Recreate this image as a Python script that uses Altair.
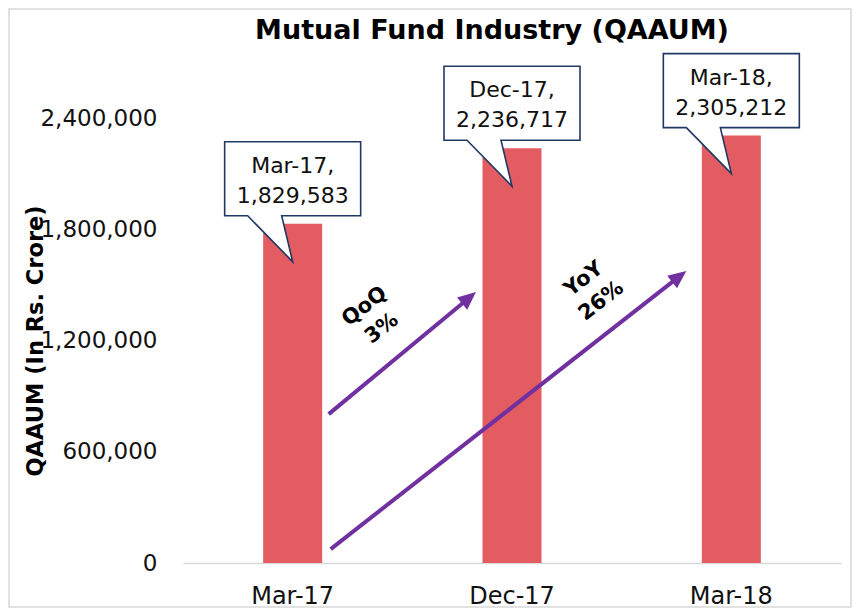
import math
import altair as alt
import pandas as pd

# ---- data ----
categories = ["Mar-17", "Dec-17", "Mar-18"]
qaaum = [1829583, 2236717, 2305212]
y_ticks = [0, 600000, 1200000, 1800000, 2400000]

arrow_from = ["Mar-17", "Mar-17"]
arrow_to = ["Dec-17", "Mar-18"]
arrow_start = [803000, 75000]
arrow_end = [1461000, 1575000]
arrow_text = ["QoQ\n3%", "YoY\n26%"]
arrow_text_cat = ["Mar-17", "Dec-17"]
arrow_text_val = [1324000, 1472000]

title_text = "Mutual Fund Industry (QAAUM)"
y_title = "QAAUM (In Rs. Crore)"

# ---- tables ----
bars_df = pd.DataFrame({"period": categories, "aum": qaaum})
bars_df["label"] = [f"{c},\n{v:,}" for c, v in zip(categories, qaaum)]
arrows_df = pd.DataFrame({"period": arrow_from, "to": arrow_to,
                          "aum": arrow_start, "end": arrow_end})
ann_df = pd.DataFrame({"period": arrow_text_cat, "aum": arrow_text_val, "txt": arrow_text})

FONT = "DejaVu Sans"
BAR = "#E35C62"
PURPLE = "#7030A0"
NAVY = "#203864"

x_axis = alt.Axis(title=None, labelFont=FONT, labelFontSize=24, labelColor="#111111",
                  labelPadding=21, ticks=False, tickSize=0, domainColor="#D9D9D9",
                  domainWidth=1.5, labelAngle=0, grid=False)
y_axis = alt.Axis(title=y_title, values=y_ticks,
                  labelExpr="format(datum.value, ',')", labelFont=FONT,
                  labelFontSize=23, labelColor="#111111", labelPadding=26, ticks=False,
                  tickSize=0, domain=False, grid=False, titleFont=FONT, titleFontSize=22.5,
                  titleFontWeight="bold", titleColor="#000000", titleAngle=270,
                  titleAlign="center", titleBaseline="alphabetic", titleX=-141, titleY=222.5)
x_scale = alt.Scale(domain=categories, paddingInner=0, paddingOuter=0)
y_scale = alt.Scale(domain=[0, 2400000], nice=False)


def X(field):
    return alt.X(f"{field}:N", sort=categories, scale=x_scale, axis=x_axis, title=None)


def Y(field):
    return alt.Y(f"{field}:Q", scale=y_scale, axis=y_axis, title=y_title)


border = alt.Chart(pd.DataFrame({"k": [0]})).mark_rect(
    fillOpacity=0, stroke="#D9D9D9", strokeWidth=1.5
).encode(x=alt.value(-174), x2=alt.value(668), y=alt.value(-109), y2=alt.value(489))

bars = alt.Chart(bars_df).mark_bar(size=59, color=BAR).encode(x=X("period"), y=Y("aum"))

callout_path = ("M -0.68 -0.82 L 0.68 -0.82 L 0.68 -0.08 L -0.11 -0.08 L 0 0.38 "
                "L -0.45 -0.08 L -0.68 -0.08 Z")
boxes = alt.Chart(bars_df).mark_point(
    shape=callout_path, size=40000, filled=True, fill="white", stroke=NAVY,
    strokeWidth=1.6, opacity=1
).encode(x=X("period"), y=Y("aum"))

box_text = alt.Chart(bars_df).mark_text(
    font=FONT, fontSize=22, color="#111111", lineBreak="\n", lineHeight=30,
    align="center", baseline="middle", yOffset=-58
).encode(x=X("period"), y=Y("aum"), text="label:N")

# arrows: (start x offset, end x offset, rotation of head)
arrow_style = [(36, -36, 50.5), (38, -45, 52.1)]
head_path = "M 0 0 L -0.8 1.8 L 0.8 1.8 Z"
arrow_layers = []
for i, (sx, ex, ang) in enumerate(arrow_style):
    sub = alt.Chart(arrows_df.iloc[[i]])
    theta = math.radians(90 - ang)
    arrow_layers.append(
        sub.mark_rule(color=PURPLE, strokeWidth=4, xOffset=sx,
                      x2Offset=ex - 8 * math.cos(theta), y2Offset=8 * math.sin(theta))
        .encode(x=X("period"), x2=alt.X2("to"), y=Y("aum"), y2=alt.Y2("end"))
    )
    arrow_layers.append(
        sub.mark_point(shape=head_path, size=400, filled=True, fill=PURPLE,
                       strokeWidth=0, opacity=1, angle=ang, xOffset=ex)
        .encode(x=X("to"), y=Y("end"))
    )

ann = alt.Chart(ann_df).mark_text(
    font=FONT, fontSize=21, fontWeight="bold", color="#000000", lineBreak="\n",
    lineHeight=28, align="center", baseline="middle", angle=322, xOffset=72, yOffset=-11
).encode(x=X("period"), y=Y("aum"), text="txt:N")

chart = alt.layer(border, bars, boxes, box_text, *arrow_layers, ann).properties(
    width=658, height=445,
    padding={"left": 175, "top": 110, "right": 11, "bottom": 45},
    autosize=alt.AutoSizeParams(type="none"),
    title=alt.TitleParams(text=title_text, font=FONT, fontSize=27, fontWeight="bold",
                          color="#000000", anchor="middle", frame="group", dx=-20,
                          offset=-37),
    background="white",
).configure_view(stroke=None)

chart.save("out.html", embed_options={"renderer": "svg", "actions": False})
